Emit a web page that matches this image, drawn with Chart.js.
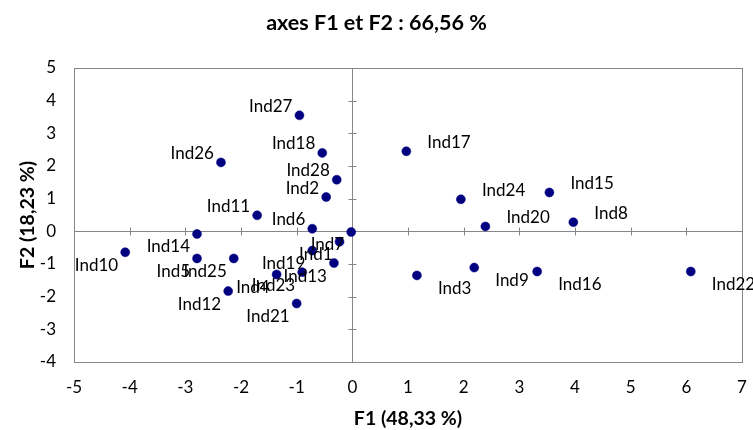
<!DOCTYPE html>
<html>
<head>
<meta charset="utf-8">
<script src="https://cdn.jsdelivr.net/npm/chart.js@4.4.1/dist/chart.umd.min.js"></script>
<style>
  html, body { margin: 0; padding: 0; background: #fff; }
  canvas { display: block; }
</style>
</head>
<body>
<canvas id="acp" width="753" height="430"></canvas>
<script>
// Individuals projected on the first factorial plane
const individus = ['Ind1','Ind2','Ind3','Ind4','Ind5','Ind6','Ind7','Ind8','Ind9','Ind10',
  'Ind11','Ind12','Ind13','Ind14','Ind15','Ind16','Ind17','Ind18','Ind19','Ind20',
  'Ind21','Ind22','Ind23','Ind24','Ind25','Ind26','Ind27','Ind28'];
const coordF1 = [-0.23, -0.47, 1.16, -1.36, -2.79, -0.72, -0.02, 3.97, 2.19, -4.08,
  -1.71, -2.23, -0.33, -2.79, 3.54, 3.32, 0.97, -0.54, -0.72, 2.39,
  -1.00, 6.08, -0.90, 1.95, -2.13, -2.36, -0.95, -0.28];
const coordF2 = [-0.32, 1.05, -1.35, -1.32, -0.83, 0.08, -0.02, 0.28, -1.11, -0.64,
  0.49, -1.83, -0.97, -0.08, 1.19, -1.23, 2.45, 2.40, -0.59, 0.15,
  -2.21, -1.23, -1.25, 0.98, -0.83, 2.11, 3.55, 1.58];
const f1Ticks = [-5, -4, -3, -2, -1, 0, 1, 2, 3, 4, 5, 6, 7];
const f2Ticks = [-4, -3, -2, -1, 0, 1, 2, 3, 4, 5];

const titre = 'axes F1 et F2 : 66,56 %';
const titreF1 = 'F1 (48,33 %)';
const titreF2 = 'F2 (18,23 %)';

const AXIS_GREY = '#868686';
const POINT_BLUE = '#000080';
const FONT = 'Lato, "Open Sans", sans-serif';

// Frame of the plot and the two factorial axes crossing at the origin
const framePlugin = {
  id: 'frame',
  beforeDatasetsDraw(chart) {
    const { ctx, chartArea: a, scales: { x, y } } = chart;
    const r = v => Math.round(v) + 0.5;
    ctx.save();
    ctx.strokeStyle = AXIS_GREY;
    ctx.lineWidth = 1;
    ctx.strokeRect(r(a.left), r(a.top), Math.round(a.right) - Math.round(a.left), Math.round(a.bottom) - Math.round(a.top));
    const x0 = r(x.getPixelForValue(0));
    const y0 = r(y.getPixelForValue(0));
    ctx.beginPath();
    ctx.moveTo(a.left, y0); ctx.lineTo(a.right, y0);
    ctx.moveTo(x0, a.top); ctx.lineTo(x0, a.bottom);
    f1Ticks.forEach(v => {
      const px = r(x.getPixelForValue(v));
      ctx.moveTo(px, y0 - 4); ctx.lineTo(px, y0 + 4);
    });
    f2Ticks.forEach(v => {
      const py = r(y.getPixelForValue(v));
      ctx.moveTo(x0 - 4, py); ctx.lineTo(x0 + 4, py);
    });
    ctx.stroke();
    ctx.restore();
  }
};

// Point names, placed away from the origin according to the quadrant
const labelPlugin = {
  id: 'pointNames',
  afterDatasetsDraw(chart) {
    const { ctx } = chart;
    const meta = chart.getDatasetMeta(0);
    ctx.save();
    ctx.font = '17px ' + FONT;
    ctx.fillStyle = '#000';
    ctx.textBaseline = 'alphabetic';
    meta.data.forEach((pt, i) => {
      const right = coordF1[i] >= 0;
      const above = coordF2[i] >= 0;
      ctx.textAlign = right ? 'left' : 'right';
      const tx = right ? pt.x + 21 : pt.x - 7;
      const ty = above ? pt.y - 3.5 : pt.y + 18.5;
      ctx.fillText(individus[i], tx, ty);
    });
    ctx.restore();
  }
};

// Chart title and the two axis titles
const titlesPlugin = {
  id: 'titles',
  afterDraw(chart) {
    const { ctx, chartArea: a } = chart;
    ctx.save();
    ctx.fillStyle = '#000';
    ctx.textAlign = 'center';
    ctx.textBaseline = 'alphabetic';
    ctx.font = 'bold 21.5px ' + FONT;
    ctx.fillText(titre, chart.width / 2, 30);
    ctx.font = 'bold 19.5px ' + FONT;
    ctx.fillText(titreF1, (a.left + a.right) / 2, 425);
    ctx.translate(34, (a.top + a.bottom) / 2);
    ctx.rotate(-Math.PI / 2);
    ctx.fillText(titreF2, 0, 0);
    ctx.restore();
  }
};

function draw() {
  new Chart(document.getElementById('acp'), {
    type: 'scatter',
    data: {
      datasets: [{
        label: 'Individus',
        data: coordF1.map((v, i) => ({ x: v, y: coordF2[i] })),
        backgroundColor: POINT_BLUE,
        borderColor: POINT_BLUE,
        borderWidth: 0.5,
        pointRadius: 4.5,
        pointHoverRadius: 4.5
      }]
    },
    options: {
      responsive: false,
      animation: false,
      devicePixelRatio: 1,
      layout: { padding: { top: 68, right: 11, left: 0, bottom: 0 } },
      plugins: {
        legend: { display: false },
        title: { display: false },
        tooltip: { enabled: false }
      },
      events: [],
      scales: {
        x: {
          type: 'linear',
          min: -5, max: 7,
          afterBuildTicks: s => { s.ticks = f1Ticks.map(v => ({ value: v })); },
          afterFit: s => { s.height = 68; s.paddingLeft = 0; s.paddingRight = 0; },
          grid: { display: false, drawTicks: false },
          border: { display: false },
          ticks: { color: '#000', font: { family: FONT, size: 17 }, padding: 15, maxRotation: 0 }
        },
        y: {
          type: 'linear',
          min: -4, max: 5,
          afterBuildTicks: s => { s.ticks = f2Ticks.map(v => ({ value: v })); },
          afterFit: s => { s.width = 74; s.paddingTop = 0; s.paddingBottom = 0; },
          grid: { display: false, drawTicks: false },
          border: { display: false },
          ticks: { color: '#000', font: { family: FONT, size: 17 }, padding: 18 }
        }
      }
    },
    plugins: [framePlugin, labelPlugin, titlesPlugin]
  });
}

Promise.all([
  document.fonts.load('17px Lato'),
  document.fonts.load('bold 21px Lato')
]).catch(() => {}).then(draw);
</script>
</body>
</html>
